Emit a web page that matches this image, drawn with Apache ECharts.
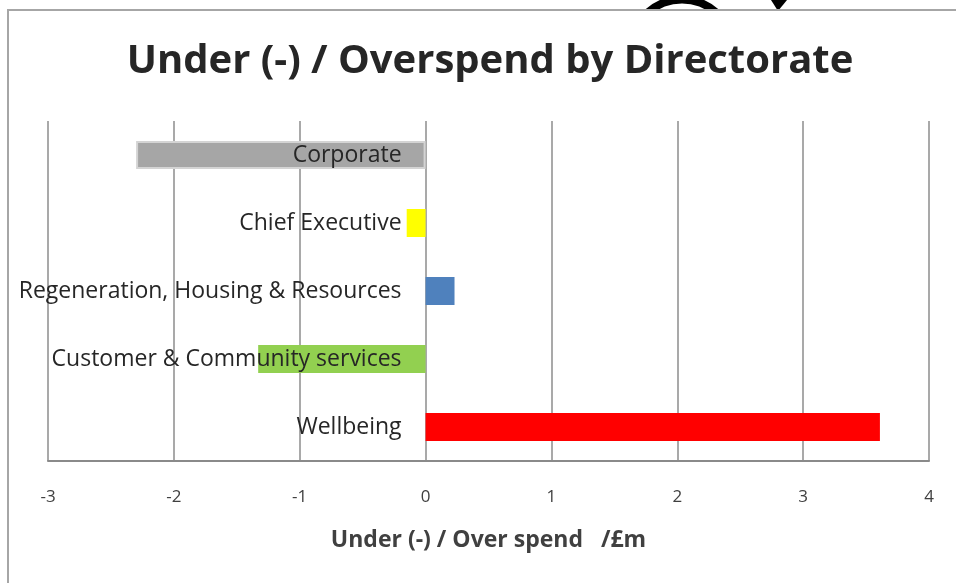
<!DOCTYPE html>
<html lang="en">
  <head>
    <meta charset="UTF-8" />
    <title>Under / Overspend by Directorate</title>
    <script src="https://cdn.jsdelivr.net/npm/echarts@6/dist/echarts.min.js"></script>
    <style>
      html, body { margin: 0; padding: 0; background: #fff; }
      #main { width: 956px; height: 583px; }
    </style>
  </head>
  <body>
    <div id="main"></div>
    <script>
      // directorates, top to bottom
      var directorates = [
        "Corporate",
        "Chief Executive",
        "Regeneration, Housing & Resources",
        "Customer & Community services",
        "Wellbeing"
      ];
      // under (-) / overspend in £m
      var variance = [-2.3, -0.15, 0.23, -1.33, 3.61];
      var barColors = ["#a6a6a6", "#ffff00", "#4f81bd", "#92d050", "#ff0000"];
      var xTicks = { min: -3, max: 4, step: 1 };

      var gridLeft = 48, gridRight = 27;
      // category labels sit just left of the zero line
      var zeroPx = gridLeft + (0 - xTicks.min) / (xTicks.max - xTicks.min) * (956 - gridLeft - gridRight);

      var myChart = echarts.init(document.getElementById("main"));

      var barData = variance.map(function (v, i) {
        var item = { value: v, itemStyle: { color: barColors[i] } };
        if (i == 0) {
          item.itemStyle.borderColor = "#d4d4d4";
          item.itemStyle.borderWidth = 2;
        }
        return item;
      });

      var option = {
        backgroundColor: "#fff",
        animation: false,
        title: {
          text: "Under (-) / Overspend by Directorate",
          left: 485,
          textAlign: "center",
          top: 37,
          textStyle: {
            fontFamily: "Open Sans",
            fontSize: 40,
            fontWeight: "bold",
            color: "#262626"
          }
        },
        grid: {
          left: gridLeft,
          right: gridRight,
          top: 121,
          bottom: 122,
          outerBoundsMode: "none"
        },
        xAxis: {
          type: "value",
          min: xTicks.min,
          max: xTicks.max,
          interval: xTicks.step,
          position: "bottom",
          name: "Under (-) / Over spend   /£m",
          nameLocation: "middle",
          nameGap: 68,
          nameTextStyle: {
            fontFamily: "Open Sans",
            fontSize: 23,
            fontWeight: "bold",
            color: "#404040"
          },
          axisLine: { show: true, lineStyle: { color: "#8a8a8a", width: 2 } },
          axisTick: { show: false },
          axisLabel: {
            margin: 28,
            fontFamily: "Open Sans",
            fontSize: 17,
            color: "#404040"
          },
          splitLine: { show: true, lineStyle: { color: "#8c8c8c", width: 1.5 } }
        },
        yAxis: {
          type: "category",
          inverse: true,
          data: directorates,
          z: 10,
          axisLine: { show: false },
          axisTick: { show: false },
          splitLine: { show: false },
          axisLabel: {
            margin: -(zeroPx - gridLeft) + 24,
            align: "right",
            fontFamily: "Open Sans",
            fontSize: 23,
            color: "#262626"
          }
        },
        series: [
          {
            type: "bar",
            barWidth: 28,
            data: barData
          }
        ],
        graphic: [
          {
            type: "sector",
            silent: true,
            z: 1,
            shape: {
              cx: 682, cy: 51, r: 55.6, r0: 47.6,
              startAngle: -Math.PI / 2 - 0.74,
              endAngle: -Math.PI / 2 + 0.74
            },
            style: { fill: "#000" }
          },
          {
            type: "rect",
            silent: true,
            z: 2,
            shape: { x: 620, y: 11, width: 130, height: 12 },
            style: { fill: "#fff" }
          },
          {
            type: "polygon",
            silent: true,
            z: 1,
            shape: { points: [[771, 0], [787, 0], [778, 11]] },
            style: { fill: "#000" }
          },
          {
            type: "rect",
            silent: true,
            z: 3,
            shape: { x: 8, y: 10, width: 1000, height: 1000 },
            style: { fill: null, stroke: "#a6a6a6", lineWidth: 2 }
          }
        ]
      };
      myChart.setOption(option);
    </script>
  </body>
</html>
